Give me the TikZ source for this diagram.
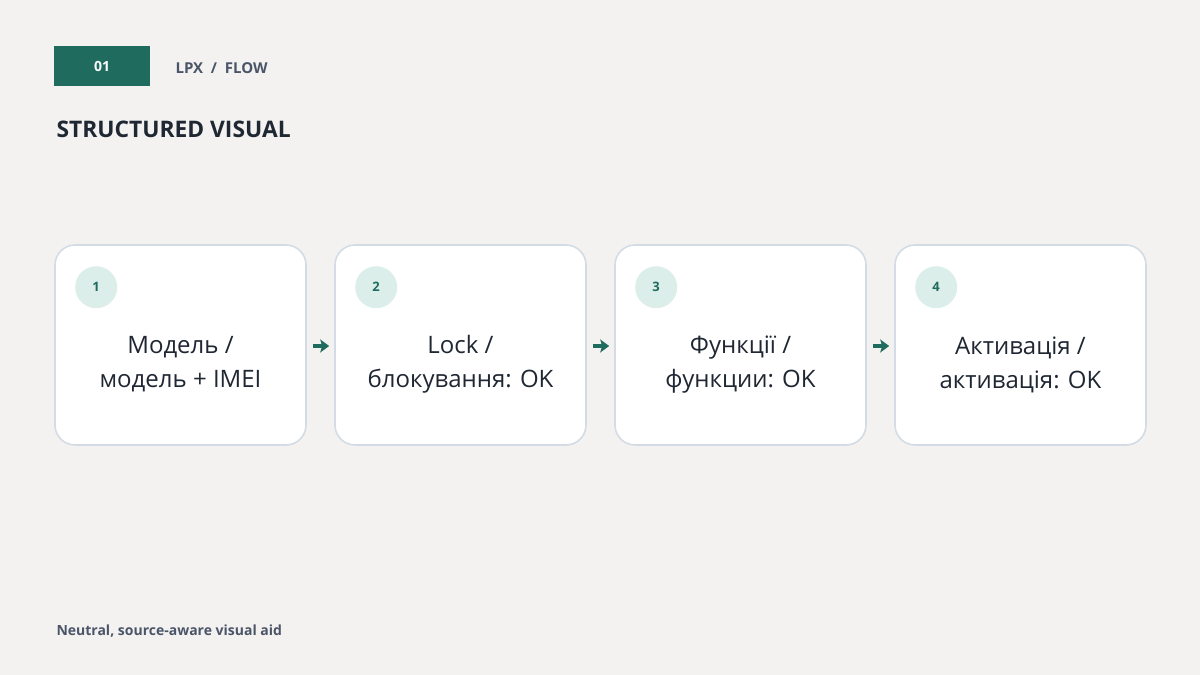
\documentclass[tikz,border=0pt]{standalone}
\usepackage{fontspec}
\setmainfont{Open Sans}
\usetikzlibrary{positioning,arrows.meta}
\definecolor{paper}{HTML}{F3F2F0}
\definecolor{flowteal}{HTML}{1F6B5E}
\definecolor{chipfill}{HTML}{DCEEE9}
\definecolor{cardedge}{HTML}{D3DCE5}
\definecolor{inkdark}{HTML}{1F2733}
\definecolor{inkgray}{HTML}{4A5568}
\begin{document}
\begin{tikzpicture}[x=1pt, y=-1pt,
  card/.style={draw=cardedge, line width=1.6pt, fill=white, rounded corners=20pt,
    minimum width=251pt, minimum height=200pt, inner sep=0pt},
  chip/.style={circle, fill=chipfill, minimum size=42pt, inner sep=0pt,
    font=\fontsize{13}{15}\selectfont\bfseries, text=flowteal},
  cardtext/.style={align=center, text=inkdark, font=\fontsize{24}{34}\selectfont},
  flow/.style={flowteal, line width=3.4pt, -{Stealth[length=9pt,width=13pt,inset=2pt]},
    shorten <=6pt, shorten >=5pt}]
\fill[paper] (0,0) rectangle (1200,675);
\node[fill=flowteal, minimum width=96pt, minimum height=40pt, inner sep=0pt,
  text=white, font=\fontsize{14}{16}\selectfont\bfseries] (badge) at (102,66) {01};
\node[anchor=west, text=inkgray, font=\fontsize{15}{17}\selectfont\bfseries]
  (crumb) at (172,68) {LPX \ / \ FLOW};
\node[anchor=west, text=inkdark, font=\fontsize{22.8}{26}\selectfont\bfseries]
  (title) at (53,129) {STRUCTURED VISUAL};
\foreach \i/\txt in {1/{Модель /\\модель + IMEI}, 2/{Lock /\\блокування: OK},
                     3/{Функції /\\функции: OK}, 4/{Активація /\\активація: OK}} {
  \node[card] (c\i) at ({180.5+280*(\i-1)},345) {};
  \node[chip] (n\i) at ([xshift=42pt,yshift=-43pt]c\i.north west) {\i};
  \node[cardtext] (t\i) at ([yshift=-19.5pt]c\i.center) {\txt};
}
\foreach \a/\b in {1/2, 2/3, 3/4}
  \draw[flow] ([yshift=-1pt]c\a.east) -- ([yshift=-1pt]c\b.west);
\node[anchor=west, text=inkgray, font=\fontsize{14}{16}\selectfont\bfseries]
  (foot) at (53,631) {Neutral, source-aware visual aid};
\end{tikzpicture}
\end{document}
